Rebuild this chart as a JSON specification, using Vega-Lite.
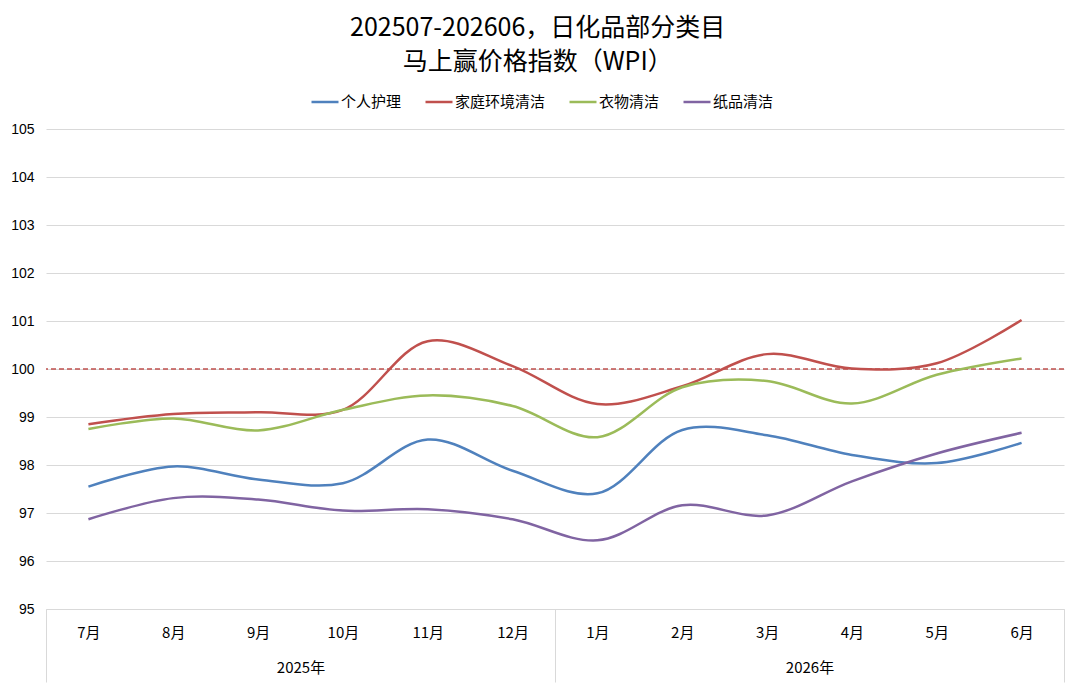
{
  "$schema": "https://vega.github.io/schema/vega-lite/v6.json",
  "width": 1018,
  "height": 480,
  "autosize": {"type": "none"},
  "padding": {"left": 46, "top": 129, "right": 16, "bottom": 80},
  "background": "white",
  "config": {
    "font": "Noto Sans CJK SC",
    "view": {"stroke": null}
  },
  "title": {
    "text": ["202507-202606，日化品部分类目", "马上赢价格指数（WPI）"],
    "fontSize": 25,
    "font": "Noto Sans CJK SC",
    "fontWeight": "normal",
    "color": "#000000",
    "lineHeight": 34,
    "offset": 12,
    "anchor": "middle",
    "frame": "bounds"
  },
  "datasets": {
    "series": [
      {"m": "7月", "s": "个人护理", "v": 97.55},
      {"m": "8月", "s": "个人护理", "v": 97.97},
      {"m": "9月", "s": "个人护理", "v": 97.70},
      {"m": "10月", "s": "个人护理", "v": 97.62},
      {"m": "11月", "s": "个人护理", "v": 98.53},
      {"m": "12月", "s": "个人护理", "v": 97.88},
      {"m": "1月", "s": "个人护理", "v": 97.41},
      {"m": "2月", "s": "个人护理", "v": 98.73},
      {"m": "3月", "s": "个人护理", "v": 98.62},
      {"m": "4月", "s": "个人护理", "v": 98.21},
      {"m": "5月", "s": "个人护理", "v": 98.04},
      {"m": "6月", "s": "个人护理", "v": 98.46},
      {"m": "7月", "s": "家庭环境清洁", "v": 98.85},
      {"m": "8月", "s": "家庭环境清洁", "v": 99.06},
      {"m": "9月", "s": "家庭环境清洁", "v": 99.10},
      {"m": "10月", "s": "家庭环境清洁", "v": 99.15},
      {"m": "11月", "s": "家庭环境清洁", "v": 100.58},
      {"m": "12月", "s": "家庭环境清洁", "v": 100.06},
      {"m": "1月", "s": "家庭环境清洁", "v": 99.27},
      {"m": "2月", "s": "家庭环境清洁", "v": 99.64},
      {"m": "3月", "s": "家庭环境清洁", "v": 100.31},
      {"m": "4月", "s": "家庭环境清洁", "v": 100.01},
      {"m": "5月", "s": "家庭环境清洁", "v": 100.12},
      {"m": "6月", "s": "家庭环境清洁", "v": 101.02},
      {"m": "7月", "s": "衣物清洁", "v": 98.75},
      {"m": "8月", "s": "衣物清洁", "v": 98.97},
      {"m": "9月", "s": "衣物清洁", "v": 98.72},
      {"m": "10月", "s": "衣物清洁", "v": 99.15},
      {"m": "11月", "s": "衣物清洁", "v": 99.45},
      {"m": "12月", "s": "衣物清洁", "v": 99.23},
      {"m": "1月", "s": "衣物清洁", "v": 98.58},
      {"m": "2月", "s": "衣物清洁", "v": 99.62},
      {"m": "3月", "s": "衣物清洁", "v": 99.75},
      {"m": "4月", "s": "衣物清洁", "v": 99.28},
      {"m": "5月", "s": "衣物清洁", "v": 99.88},
      {"m": "6月", "s": "衣物清洁", "v": 100.22},
      {"m": "7月", "s": "纸品清洁", "v": 96.87},
      {"m": "8月", "s": "纸品清洁", "v": 97.31},
      {"m": "9月", "s": "纸品清洁", "v": 97.28},
      {"m": "10月", "s": "纸品清洁", "v": 97.05},
      {"m": "11月", "s": "纸品清洁", "v": 97.08},
      {"m": "12月", "s": "纸品清洁", "v": 96.87},
      {"m": "1月", "s": "纸品清洁", "v": 96.43},
      {"m": "2月", "s": "纸品清洁", "v": 97.16},
      {"m": "3月", "s": "纸品清洁", "v": 96.95},
      {"m": "4月", "s": "纸品清洁", "v": 97.66},
      {"m": "5月", "s": "纸品清洁", "v": 98.24},
      {"m": "6月", "s": "纸品清洁", "v": 98.67}
    ],
    "years": [
      {"year": "2025年"},
      {"year": "2026年"}
    ]
  },
  "layer": [
    {
      "data": {"name": "years"},
      "mark": {"type": "point", "opacity": 0},
      "encoding": {
        "x": {
          "field": "year",
          "type": "ordinal",
          "sort": null,
          "scale": {"type": "band", "paddingInner": 0, "paddingOuter": 0},
          "axis": {
            "orient": "bottom",
            "title": null,
            "domain": false,
            "ticks": true,
            "tickBand": "extent",
            "tickSize": 73,
            "tickColor": "#d9d9d9",
            "tickWidth": 1,
            "labelPadding": -15,
            "labelBaseline": "middle",
            "labelAngle": 0,
            "labelFontSize": 15,
            "labelColor": "#000000",
            "grid": false
          }
        }
      }
    },
    {
      "data": {"values": [{}]},
      "mark": {"type": "rule", "strokeDash": [5, 3], "color": "#C0504D", "strokeWidth": 1.5},
      "encoding": {
        "y": {"datum": 100, "type": "quantitative"}
      }
    },
    {
      "data": {"name": "series"},
      "mark": {"type": "line", "interpolate": "catmull-rom", "strokeWidth": 2.5},
      "encoding": {
        "x": {
          "field": "m",
          "type": "ordinal",
          "sort": null,
          "scale": {"type": "point", "padding": 0.5},
          "axis": {
            "orient": "bottom",
            "title": null,
            "ticks": false,
            "domainColor": "#d9d9d9",
            "domainWidth": 1,
            "labelPadding": 16,
            "labelAngle": 0,
            "labelFontSize": 15,
            "labelColor": "#000000",
            "grid": false
          }
        },
        "y": {
          "field": "v",
          "type": "quantitative",
          "scale": {"domain": [95, 105], "zero": false, "nice": false},
          "axis": {
            "title": null,
            "values": [95, 96, 97, 98, 99, 100, 101, 102, 103, 104, 105],
            "domain": false,
            "ticks": false,
            "grid": true,
            "gridColor": "#d9d9d9",
            "gridWidth": 1,
            "labelPadding": 12,
            "labelFontSize": 14,
            "labelFont": "Liberation Sans",
            "labelColor": "#000000"
          }
        },
        "color": {
          "field": "s",
          "type": "nominal",
          "scale": {
            "domain": ["个人护理", "家庭环境清洁", "衣物清洁", "纸品清洁"],
            "range": ["#4F81BD", "#C0504D", "#9BBB59", "#8064A2"]
          },
          "legend": {
            "orient": "none",
            "legendX": 264,
            "legendY": -42,
            "direction": "horizontal",
            "title": null,
            "symbolType": "stroke",
            "symbolStrokeWidth": 2.5,
            "symbolSize": 729,
            "labelOffset": 1,
            "labelFontSize": 15,
            "labelColor": "#000000",
            "columnPadding": 18
          }
        }
      }
    }
  ],
  "resolve": {"scale": {"x": "independent"}}
}
